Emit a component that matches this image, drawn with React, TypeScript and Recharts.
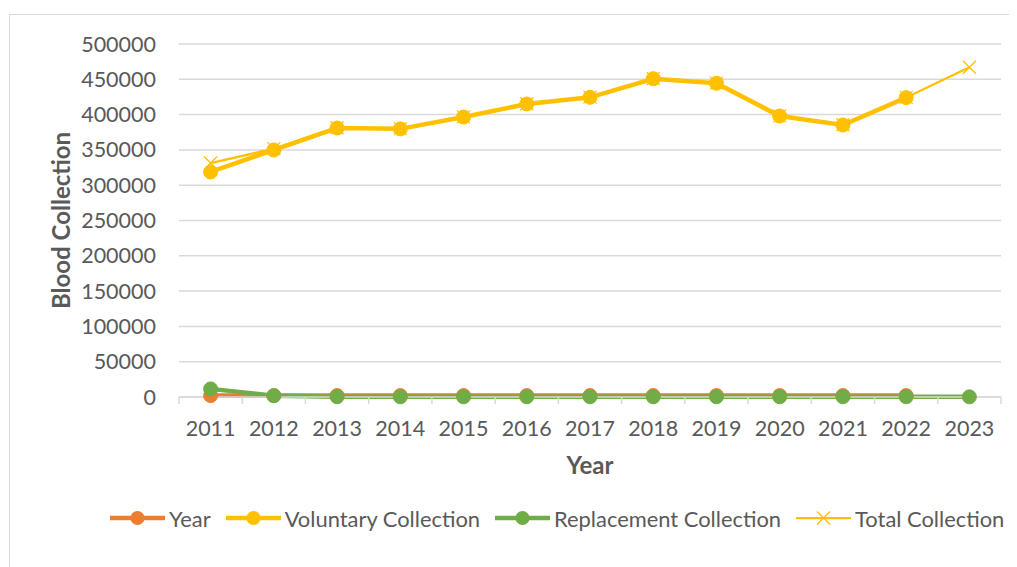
import React from "react";
import { LineChart, Line, XAxis, YAxis, CartesianGrid, Legend, Label } from "recharts";

const years = ["2011", "2012", "2013", "2014", "2015", "2016", "2017", "2018", "2019", "2020", "2021", "2022", "2023"];
const yearSeries = [2011, 2012, 2013, 2014, 2015, 2016, 2017, 2018, 2019, 2020, 2021, 2022, null];
const voluntary = [318700, 349900, 381000, 379800, 396500, 415000, 424500, 450800, 444300, 398000, 385300, 424000, null];
const replacement = [11500, 1800, 400, 350, 300, 300, 300, 300, 300, 300, 300, 300, 200];
const total = [331400, 351700, 381400, 380150, 396800, 415300, 424800, 451100, 444600, 398300, 385600, 424300, 467000];
const yTicks = [0, 50000, 100000, 150000, 200000, 250000, 300000, 350000, 400000, 450000, 500000];

const data = years.map((y, i) => ({
  year: y,
  Year: yearSeries[i],
  Voluntary: voluntary[i],
  Replacement: replacement[i],
  Total: total[i],
}));

const FONT = "Lato, 'Open Sans', sans-serif";
const TXT = "#595959";
const GRID = "#d9d9d9";
const ORANGE = "#ED7D31";
const GOLD = "#FFC000";
const GREEN = "#70AD47";
const TICK_FS = 21.5;
const LEGEND_FS = 21.9;
const TITLE_FS = 24;

const seriesMeta = [
  { name: "Year", color: ORANGE, marker: "circle", width: 4.5 },
  { name: "Voluntary Collection", color: GOLD, marker: "circle", width: 4.5 },
  { name: "Replacement Collection", color: GREEN, marker: "circle", width: 4.5 },
  { name: "Total Collection", color: GOLD, marker: "x", width: 2.25 },
];

const XTick = (props: any) => {
  const { x, y, payload, index, visibleTicksCount, width } = props;
  const bw = payload && payload.offset ? payload.offset * 2 : width / visibleTicksCount;
  return (
    <g>
      <line x1={x - bw / 2} x2={x - bw / 2} y1={y} y2={y + 7} stroke={GRID} strokeWidth={1.5} />
      {index === visibleTicksCount - 1 && (
        <line x1={x + bw / 2} x2={x + bw / 2} y1={y} y2={y + 7} stroke={GRID} strokeWidth={1.5} />
      )}
      <text x={x} y={y + 31} dy="0.35em" textAnchor="middle" fill={TXT} fontSize={TICK_FS} fontFamily={FONT}>
        {payload.value}
      </text>
    </g>
  );
};

const YTick = (props: any) => {
  const { x, y, payload } = props;
  return (
    <text x={x - 23} y={y} dy="0.35em" textAnchor="end" fill={TXT} fontSize={TICK_FS} fontFamily={FONT}>
      {payload.value}
    </text>
  );
};

const CircleDot = (color: string) => (props: any) => {
  const { cx, cy, value } = props;
  if (value === null || value === undefined || cx == null || cy == null) return <g />;
  return <circle cx={cx} cy={cy} r={7} fill={color} stroke={color} strokeWidth={1} />;
};

const XDot = (props: any) => {
  const { cx, cy, value } = props;
  if (value === null || value === undefined || cx == null || cy == null) return <g />;
  const s = 6.5;
  return (
    <g stroke={GOLD} strokeWidth={1.2}>
      <line x1={cx - s} y1={cy - s} x2={cx + s} y2={cy + s} />
      <line x1={cx - s} y1={cy + s} x2={cx + s} y2={cy - s} />
    </g>
  );
};

const LegendContent = () => (
  <div style={{ display: "flex", alignItems: "center", height: 28, fontFamily: FONT, fontSize: LEGEND_FS, color: TXT }}>
    {seriesMeta.map((m) => (
      <div key={m.name} style={{ display: "flex", alignItems: "center", marginRight: 15 }}>
        <svg width={55} height={20} style={{ display: "block" }}>
          <line x1={0} x2={55} y1={10} y2={10} stroke={m.color} strokeWidth={m.width} strokeLinecap="round" />
          {m.marker === "circle" ? (
            <circle cx={27.5} cy={10} r={7} fill={m.color} />
          ) : (
            <g stroke={m.color} strokeWidth={1.2}>
              <line x1={21} y1={3.5} x2={34} y2={16.5} />
              <line x1={21} y1={16.5} x2={34} y2={3.5} />
            </g>
          )}
        </svg>
        <span style={{ marginLeft: 4, whiteSpace: "nowrap" }}>{m.name}</span>
      </div>
    ))}
  </div>
);

export default function App() {
  return (
    <div style={{ position: "relative", width: 1009, height: 559, overflow: "hidden", background: "#fff" }}>
      <div
        style={{
          position: "absolute",
          left: 1,
          top: 6,
          width: 1040,
          height: 600,
          border: `1.5px solid ${GRID}`,
          boxSizing: "border-box",
        }}
      />
      <div style={{ position: "absolute", left: 0, top: 0 }}>
        <LineChart width={1009} height={559} data={data} margin={{ top: 36, right: 16, left: 0, bottom: 35 }}>
          <CartesianGrid vertical={false} stroke={GRID} strokeWidth={1.5} />
          <XAxis
            dataKey="year"
            type="category"
            scale="band"
            interval={0}
            height={107}
            tickSize={0}
            tickMargin={0}
            tickLine={false}
            axisLine={{ stroke: GRID, strokeWidth: 1.5 }}
            tick={<XTick />}
          >
            <Label
              content={(p: any) => {
                const vb = p.viewBox || {};
                return (
                  <text
                    x={vb.x + vb.width / 2}
                    y={vb.y + 69}
                    dy="0.35em"
                    textAnchor="middle"
                    fill={TXT}
                    fontSize={TITLE_FS}
                    fontWeight="bold"
                    fontFamily={FONT}
                  >
                    Year
                  </text>
                );
              }}
            />
          </XAxis>
          <YAxis
            width={171}
            domain={[0, 500000]}
            ticks={yTicks}
            interval={0}
            tickSize={0}
            tickMargin={0}
            tickLine={false}
            axisLine={false}
            tick={<YTick />}
          >
            <Label
              content={(p: any) => {
                const vb = p.viewBox || {};
                const cx = vb.x + 54;
                const cy = vb.y + vb.height / 2;
                return (
                  <text
                    x={cx}
                    y={cy}
                    dy="0.35em"
                    textAnchor="middle"
                    transform={`rotate(-90 ${cx} ${cy})`}
                    fill={TXT}
                    fontSize={TITLE_FS}
                    fontWeight="bold"
                    fontFamily={FONT}
                  >
                    Blood Collection
                  </text>
                );
              }}
            />
          </YAxis>
          <Legend
            verticalAlign="bottom"
            content={<LegendContent />}
            wrapperStyle={{ left: 102, width: 930 }}
          />
          <Line
            dataKey="Year"
            name="Year"
            stroke={ORANGE}
            strokeWidth={4.5}
            dot={CircleDot(ORANGE)}
            activeDot={false}
            isAnimationActive={false}
          />
          <Line
            dataKey="Voluntary"
            name="Voluntary Collection"
            stroke={GOLD}
            strokeWidth={4.5}
            dot={CircleDot(GOLD)}
            activeDot={false}
            isAnimationActive={false}
          />
          <Line
            dataKey="Replacement"
            name="Replacement Collection"
            stroke={GREEN}
            strokeWidth={4.5}
            dot={CircleDot(GREEN)}
            activeDot={false}
            isAnimationActive={false}
          />
          <Line
            dataKey="Total"
            name="Total Collection"
            stroke={GOLD}
            strokeWidth={2.25}
            dot={<XDot />}
            activeDot={false}
            isAnimationActive={false}
          />
        </LineChart>
      </div>
    </div>
  );
}
